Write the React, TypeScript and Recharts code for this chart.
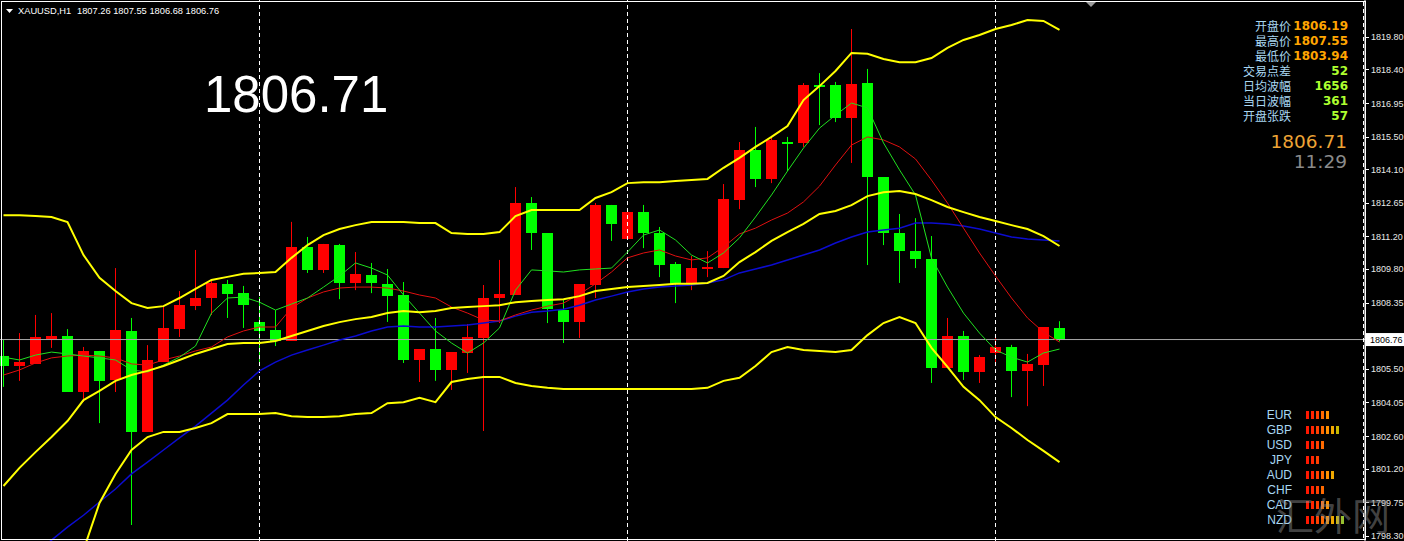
import { ComposedChart, Bar, Line, XAxis, YAxis, ReferenceLine } from "recharts";

const W = 1404;
const H = 541;

// XAUUSD H1 candles, oldest first
const opens = [
  1806.05, 1805.62, 1805.71, 1806.78, 1806.91, 1804.5, 1806.27, 1805.02, 1807.13, 1802.78,
  1805.8, 1807.21, 1808.2, 1808.55, 1809.15, 1808.76, 1807.52, 1807.17, 1806.7, 1810.75,
  1809.76, 1810.83, 1809.2, 1809.54, 1809.15, 1808.68, 1805.88, 1806.35, 1805.45, 1806.18,
  1806.83, 1808.55, 1808.68, 1812.64, 1811.35, 1808.03, 1807.52, 1809.11, 1812.56, 1811.09,
  1812.26, 1811.35, 1810.01, 1809.15, 1809.8, 1809.84, 1812.77, 1814.93, 1813.68, 1815.27,
  1815.23, 1817.73, 1817.73, 1816.31, 1817.81, 1813.76, 1811.35, 1810.57, 1810.23, 1805.53,
  1806.91, 1805.36, 1806.18, 1806.44, 1805.4, 1805.66, 1807.26,
];
const highs = [
  1806.74, 1807.04, 1807.82, 1807.9, 1807.21, 1806.44, 1806.27, 1809.84, 1807.69, 1806.52,
  1808.2, 1808.85, 1810.62, 1809.33, 1809.33, 1809.07, 1808.59, 1808.03, 1811.83, 1811.18,
  1810.88, 1810.88, 1810.53, 1810.06, 1809.8, 1809.24, 1806.35, 1807.69, 1806.22, 1807.43,
  1809.11, 1810.19, 1813.33, 1812.9, 1811.35, 1808.46, 1809.15, 1812.64, 1812.56, 1812.34,
  1812.56, 1811.61, 1810.1, 1810.36, 1810.57, 1813.46, 1815.27, 1815.92, 1815.49, 1815.49,
  1817.81, 1818.24, 1817.86, 1820.14, 1818.42, 1813.76, 1812.17, 1811.99, 1811.22, 1807.69,
  1807.13, 1806.09, 1807.0, 1806.53, 1806.14, 1807.3, 1807.55,
];
const lows = [
  1804.72, 1804.98, 1805.71, 1806.4, 1804.5, 1804.07, 1803.16, 1804.5, 1798.77, 1802.78,
  1805.8, 1806.87, 1808.03, 1807.82, 1807.69, 1807.26, 1805.66, 1806.48, 1806.7, 1809.63,
  1809.63, 1808.5, 1808.89, 1808.76, 1807.52, 1805.75, 1804.93, 1804.98, 1804.59, 1805.32,
  1802.82, 1807.47, 1808.68, 1810.62, 1807.47, 1806.61, 1806.83, 1808.55, 1811.01, 1811.05,
  1810.7, 1809.45, 1808.33, 1808.89, 1809.45, 1809.84, 1812.38, 1813.33, 1813.5, 1814.02,
  1815.06, 1816.0, 1816.13, 1814.37, 1809.97, 1810.83, 1809.2, 1809.84, 1804.89, 1805.53,
  1805.02, 1804.89, 1805.75, 1804.28, 1803.89, 1804.76, 1806.68,
];
const closes = [
  1805.62, 1805.8, 1806.87, 1806.91, 1804.5, 1806.27, 1804.98, 1807.17, 1802.78, 1805.88,
  1807.26, 1808.25, 1808.55, 1809.2, 1808.72, 1808.25, 1807.13, 1806.7, 1810.75, 1809.76,
  1810.88, 1809.2, 1809.58, 1809.2, 1808.63, 1805.88, 1806.35, 1805.45, 1806.22, 1806.87,
  1808.55, 1808.72, 1812.64, 1811.35, 1808.07, 1807.52, 1809.15, 1812.56, 1811.74, 1812.26,
  1811.35, 1809.97, 1809.15, 1809.84, 1809.89, 1812.82, 1814.93, 1813.68, 1815.36, 1815.19,
  1817.73, 1817.64, 1816.31, 1817.77, 1813.76, 1811.35, 1810.57, 1810.23, 1805.53, 1806.91,
  1805.36, 1806.01, 1806.44, 1805.4, 1805.71, 1807.3, 1806.76,
];

// Bollinger bands (yellow)
const bbUpper = [
  1812.12, 1812.12, 1812.08, 1812.04, 1811.82, 1810.4, 1809.42, 1808.85, 1808.33, 1808.12,
  1808.2, 1808.55, 1808.94, 1809.33, 1809.46, 1809.59, 1809.63, 1809.67, 1810.28, 1810.83,
  1811.26, 1811.52, 1811.69, 1811.82, 1811.82, 1811.82, 1811.78, 1811.78, 1811.35, 1811.31,
  1811.31, 1811.39, 1812.08, 1812.34, 1812.34, 1812.34, 1812.34, 1812.86, 1813.11, 1813.5,
  1813.54, 1813.54, 1813.59, 1813.63, 1813.68, 1814.16, 1814.59, 1815.06, 1815.49, 1815.96,
  1817.08, 1817.68, 1818.33, 1819.11, 1819.07, 1818.85, 1818.71, 1818.71, 1818.89, 1819.33,
  1819.67, 1819.88, 1820.14, 1820.31, 1820.53, 1820.49, 1820.1,
];
const bbMiddle = [
  1800.45, 1801.23, 1801.91, 1802.56, 1803.25, 1804.15, 1804.55, 1804.98, 1805.23, 1805.41,
  1805.62, 1805.88, 1806.14, 1806.35, 1806.57, 1806.61, 1806.61, 1806.7, 1806.91, 1807.13,
  1807.34, 1807.51, 1807.64, 1807.73, 1807.9, 1807.99, 1807.94, 1807.99, 1808.12, 1808.16,
  1808.2, 1808.24, 1808.37, 1808.42, 1808.46, 1808.5, 1808.63, 1808.85, 1808.94, 1809.02,
  1809.07, 1809.11, 1809.16, 1809.16, 1809.2, 1809.5, 1810.1, 1810.53, 1811.01, 1811.39,
  1811.74, 1812.17, 1812.3, 1812.55, 1812.94, 1813.11, 1813.16, 1813.03, 1812.77, 1812.47,
  1812.25, 1812.04, 1811.87, 1811.69, 1811.52, 1811.22, 1810.79,
];
const bbLower = [
  null, null, null, null, 1795.54, 1797.69, 1799.72, 1800.97, 1802.0, 1802.56,
  1802.78, 1802.78, 1802.95, 1803.16, 1803.55, 1803.55, 1803.55, 1803.59, 1803.46, 1803.42,
  1803.42, 1803.46, 1803.55, 1803.59, 1804.02, 1804.06, 1804.25, 1804.06, 1804.93, 1805.06,
  1805.15, 1805.15, 1804.89, 1804.76, 1804.68, 1804.63, 1804.63, 1804.63, 1804.63, 1804.63,
  1804.63, 1804.63, 1804.63, 1804.63, 1804.68, 1804.98, 1805.11, 1805.62, 1806.22, 1806.44,
  1806.31, 1806.27, 1806.22, 1806.31, 1806.95, 1807.47, 1807.73, 1807.47, 1806.4, 1805.58,
  1804.72, 1804.15, 1803.42, 1802.95, 1802.43, 1801.96, 1801.48,
];

// moving averages: fast (green), medium (red), slow (blue)
const maFast = [
  1806.0, 1805.88, 1806.09, 1806.22, 1806.14, 1806.05, 1805.97, 1805.88, 1805.45, 1805.36,
  1805.66, 1806.0, 1806.48, 1807.9, 1808.55, 1808.59, 1808.37, 1808.03, 1808.29, 1808.55,
  1809.02, 1809.5, 1810.06, 1809.84, 1809.54, 1808.68, 1807.9, 1807.13, 1806.61, 1806.18,
  1806.61, 1807.26, 1808.89, 1809.76, 1809.72, 1809.67, 1809.76, 1809.8, 1809.84, 1810.53,
  1811.26, 1811.48, 1811.05, 1810.4, 1810.06, 1810.49, 1811.14, 1812.04, 1812.99, 1814.02,
  1815.01, 1815.87, 1816.43, 1816.95, 1816.74, 1815.23, 1814.07, 1812.99, 1810.27, 1809.02,
  1807.9, 1807.04, 1806.31, 1806.0, 1805.79, 1806.18, 1806.35,
];
const maMid = [
  1805.23, 1805.45, 1805.75, 1805.97, 1806.05, 1806.09, 1806.05, 1805.97, 1805.71, 1805.66,
  1805.88, 1806.05, 1806.27, 1806.44, 1806.87, 1807.13, 1807.3, 1807.3, 1808.12, 1808.55,
  1808.81, 1808.98, 1809.02, 1809.02, 1808.98, 1808.85, 1808.68, 1808.55, 1808.16, 1807.9,
  1807.6, 1807.56, 1807.82, 1808.03, 1808.2, 1808.33, 1808.72, 1809.16, 1809.67, 1810.28,
  1810.49, 1810.62, 1810.36, 1810.19, 1810.28, 1810.75, 1811.31, 1811.56, 1811.91, 1812.21,
  1812.69, 1813.37, 1814.28, 1815.14, 1815.49, 1815.36, 1815.06, 1814.54, 1813.63, 1812.64,
  1811.56, 1810.49, 1809.5, 1808.55, 1807.69, 1807.08, 1806.65,
];
const maSlow = [
  null, null, 1797.48, 1798.12, 1798.68, 1799.19, 1799.76, 1800.32, 1800.97, 1801.48,
  1802.0, 1802.52, 1803.03, 1803.59, 1804.15, 1804.8, 1805.41, 1805.79, 1806.09, 1806.31,
  1806.52, 1806.74, 1806.91, 1807.13, 1807.3, 1807.34, 1807.3, 1807.3, 1807.34, 1807.39,
  1807.47, 1807.56, 1807.77, 1807.94, 1807.99, 1808.07, 1808.24, 1808.46, 1808.63, 1808.81,
  1808.94, 1809.02, 1809.07, 1809.11, 1809.2, 1809.33, 1809.63, 1809.8, 1809.97, 1810.19,
  1810.4, 1810.62, 1810.92, 1811.18, 1811.39, 1811.48, 1811.56, 1811.78, 1811.78, 1811.74,
  1811.65, 1811.52, 1811.35, 1811.18, 1811.09, 1811.05, 1811.01,
];

const priceTicks = [
  1798.3, 1799.75, 1801.2, 1802.6, 1804.05, 1805.5, 1806.76, 1808.35, 1809.8, 1811.2,
  1812.65, 1814.1, 1815.5, 1816.95, 1818.4, 1819.8,
];
const lastPrice = 1806.76;
const gridAt = [16, 39, 62];

const headerSymbol = "XAUUSD,H1";
const headerOhlc = "1807.26 1807.55 1806.68 1806.76";
const bigPrice = "1806.71";
const quoteLabels = ["开盘价", "最高价", "最低价", "交易点差", "日均波幅", "当日波幅", "开盘张跌"];
const quoteValues = ["1806.19", "1807.55", "1803.94", "52", "1656", "361", "57"];
const clock = "11:29";
const currencies = ["EUR", "GBP", "USD", "JPY", "AUD", "CHF", "CAD", "NZD"];
const strength = [5, 7, 4, 3, 6, 4, 5, 8];

const UP = "#ff0000";
const DOWN = "#00ff00";
const BAND = "#ffff00";
const LABEL_BLUE = "#a9d7f2";
const strengthColors = ["#ff1800", "#ff2400", "#ff4000", "#ff6a00", "#ff9000", "#f0a800", "#c8b800", "#98c030"];

const data = opens.map((o, i) => ({
  i,
  o,
  h: highs[i],
  l: lows[i],
  c: closes[i],
  range: [lows[i], highs[i]],
  up: bbUpper[i],
  mid: bbMiddle[i],
  lo: bbLower[i],
  fast: maFast[i],
  ma: maMid[i],
  slow: maSlow[i],
}));

function Candle(props: any) {
  const { x, y, width, height, payload } = props;
  if (!payload) return null;
  const { o, h, l, c } = payload;
  const color = c > o ? UP : DOWN;
  const top = Math.min(y, y + height);
  const span = Math.abs(height);
  const k = span / (h - l || 1);
  const col = Math.floor(x + width / 2);
  const bTop = Math.round(top + (h - Math.max(o, c)) * k);
  const bBot = Math.round(top + (h - Math.min(o, c)) * k);
  return (
    <g>
      <line x1={col + 0.5} x2={col + 0.5} y1={top} y2={top + span} stroke={color} strokeWidth={1} />
      <rect x={col - 5} y={bTop} width={11} height={Math.max(1, bBot - bTop)} fill={color} />
    </g>
  );
}

function PriceTick(props: any) {
  const { x, y, payload } = props;
  const v = payload.value as number;
  if (Math.abs(v - lastPrice) < 0.001) {
    return (
      <g>
        <rect x={x + 1} y={y - 6.5} width={39} height={13} fill="#ffffff" />
        <text x={x + 5} y={y + 3.5} fill="#000" fontSize={9} fontFamily="Liberation Sans, Arial, sans-serif">
          {v.toFixed(2)}
        </text>
      </g>
    );
  }
  return (
    <g>
      <line x1={x} x2={x + 4} y1={Math.round(y) + 0.5} y2={Math.round(y) + 0.5} stroke="#fff" />
      <text x={x + 6} y={y + 3.5} fill="#e8e8e8" fontSize={9} fontFamily="Liberation Sans, Arial, sans-serif">
        {v.toFixed(2)}
      </text>
    </g>
  );
}

const lineProps = { dot: false, activeDot: false, isAnimationActive: false } as const;

export default function App() {
  return (
    <div style={{ position: "absolute", left: 0, top: 0, width: W, height: H, background: "#000", overflow: "hidden" }}>
      <ComposedChart width={W} height={H} data={data} margin={{ top: 0, right: 0, bottom: 0, left: 0 }}>
        <XAxis dataKey="i" type="number" domain={[-0.21875, 85.09375]} allowDataOverflow hide />
        <YAxis
          orientation="right"
          width={39}
          domain={[1798.08, 1821.39]}
          allowDataOverflow
          ticks={priceTicks}
          interval={0}
          tick={PriceTick}
          tickLine={false}
          tickSize={0}
          tickMargin={0}
          axisLine={{ stroke: "#fff" }}
        />
        {gridAt.map((g) => (
          <ReferenceLine key={g} x={g} stroke="#ffffff" strokeDasharray="4 3" />
        ))}
        <ReferenceLine y={lastPrice} stroke="#a8a8a8" />
        <Bar dataKey="range" barSize={11} shape={Candle} isAnimationActive={false} />
        <Line dataKey="slow" stroke="#0c0cd0" strokeWidth={1.5} {...lineProps} />
        <Line dataKey="ma" stroke="#e01010" strokeWidth={1} {...lineProps} />
        <Line dataKey="fast" stroke="#20e020" strokeWidth={1} {...lineProps} />
        <Line dataKey="up" stroke={BAND} strokeWidth={2} {...lineProps} />
        <Line dataKey="mid" stroke={BAND} strokeWidth={2} {...lineProps} />
        <Line dataKey="lo" stroke={BAND} strokeWidth={2} {...lineProps} />
      </ComposedChart>

      <svg width={W} height={H} style={{ position: "absolute", left: 0, top: 0, pointerEvents: "none" }}>
        {/* frame */}
        <rect x={1.5} y={1.5} width={1364} height={538} fill="none" stroke="#fff" />
        <line x1={1363.5} x2={1363.5} y1={2} y2={540} stroke="#fff" strokeDasharray="4 3" />
        <polygon points="1086,2 1096,2 1091,7" fill="#9a9a9a" />

        {/* header */}
        <polygon points="6,9 13,9 9.5,13" fill="#fff" />
        <text x={18} y={14} fill="#fff" fontSize={9.3} fontFamily="Liberation Sans, Arial, sans-serif">
          {headerSymbol}
        </text>
        <text x={77} y={14} fill="#fff" fontSize={9.3} fontFamily="Liberation Sans, Arial, sans-serif">
          {headerOhlc}
        </text>

        <text x={204} y={112} fill="#fff" fontSize={51} fontFamily="Liberation Sans, Arial, sans-serif">
          {bigPrice}
        </text>

        {/* quote panel */}
        {quoteLabels.map((t, i) => (
          <text key={t} x={1291} y={30.5 + i * 15} fill={LABEL_BLUE} fontSize={12} textAnchor="end" fontFamily="Noto Sans CJK SC, sans-serif">
            {t}
          </text>
        ))}
        {quoteValues.map((v, i) => (
          <text key={i} x={1348} y={30 + i * 15} fill={i < 3 ? "#ffa500" : "#adff2f"} fontSize={12} fontWeight="bold" textAnchor="end" fontFamily="DejaVu Sans, sans-serif">
            {v}
          </text>
        ))}
        <text x={1347} y={148} fill="#eea436" fontSize={18.5} textAnchor="end" fontFamily="DejaVu Sans, sans-serif">
          {bigPrice}
        </text>
        <text x={1347} y={168} fill="#8a8a8a" fontSize={18.5} textAnchor="end" fontFamily="DejaVu Sans, sans-serif">
          {clock}
        </text>

        {/* currency strength */}
        {currencies.map((cur, i) => (
          <g key={cur}>
            <text x={1292} y={419 + i * 15} fill={LABEL_BLUE} fontSize={12} textAnchor="end" fontFamily="Liberation Sans, Arial, sans-serif">
              {cur}
            </text>
            {Array.from({ length: strength[i] }, (_, j) => (
              <rect key={j} x={1306 + j * 5} y={411 + i * 15} width={3} height={8} fill={strengthColors[j]} />
            ))}
          </g>
        ))}

        <text x={1276} y={530} fill="rgba(150,150,150,0.45)" fontSize={38} fontFamily="Noto Sans CJK SC, sans-serif">
          汇外网
        </text>
      </svg>
    </div>
  );
}
